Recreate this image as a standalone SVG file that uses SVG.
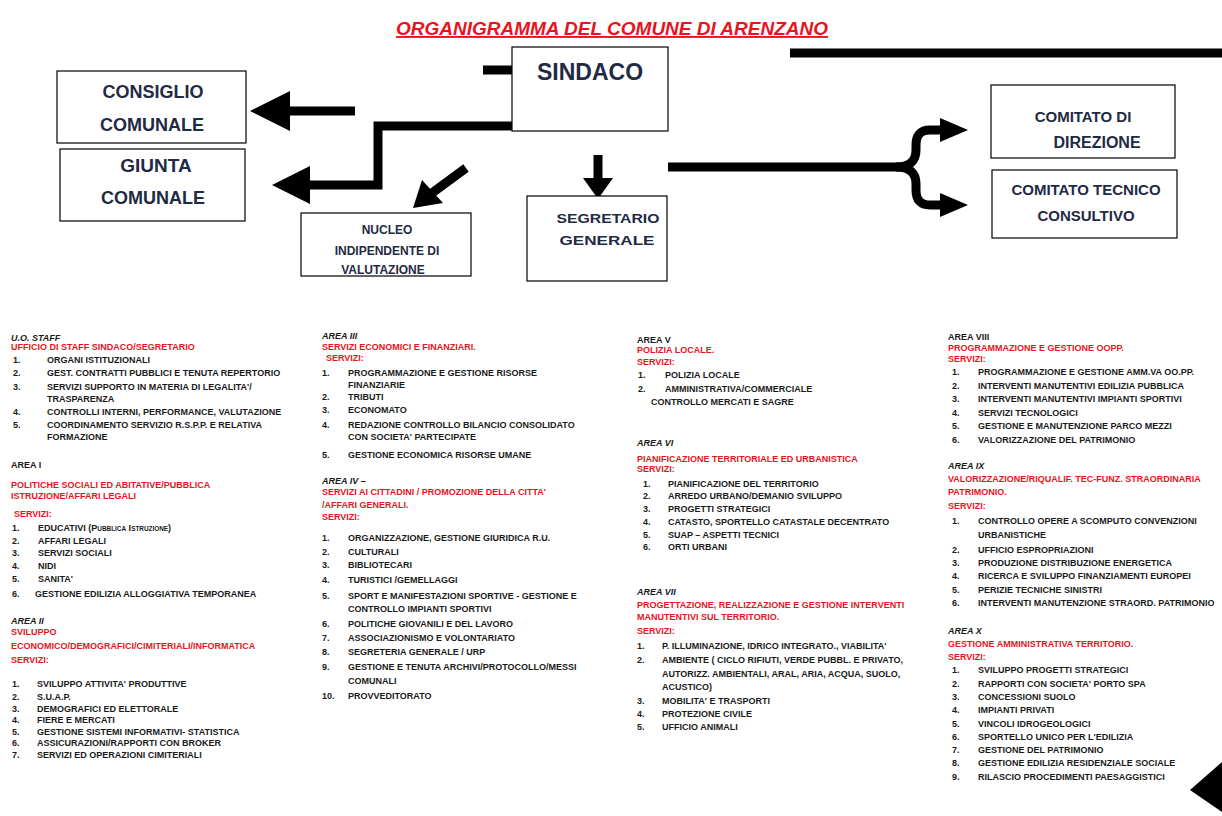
<svg xmlns="http://www.w3.org/2000/svg" width="1222" height="816" viewBox="0 0 1222 816" xml:space="preserve">
<style>
.b{fill:#fff;stroke:#000;stroke-width:1.2}
.h{font-family:"Liberation Sans",Arial,sans-serif;font-weight:bold;fill:#1f2a44;text-anchor:middle}
.t{font-family:"Liberation Sans",Arial,sans-serif;font-weight:bold;font-size:9px;fill:#1a1a1a}
.r{fill:#e8141b}
.i{font-style:italic}
.ln{stroke:#000;stroke-width:9;fill:none}
.ah{fill:#000}
</style>
<rect width="1222" height="816" fill="#fff"/>
<text x="612" y="35" text-anchor="middle" font-family="Liberation Sans,Arial,sans-serif" font-weight="bold" font-style="italic" font-size="19" fill="#e8141b" text-decoration="underline">ORGANIGRAMMA DEL COMUNE DI ARENZANO</text>
<g id="connectors">
<line class="ln" x1="790" y1="53" x2="1222" y2="53"/>
<line class="ln" x1="483" y1="70" x2="512" y2="70"/>
<line class="ln" x1="355" y1="111" x2="285" y2="111"/>
<polygon class="ah" points="250,111 290,91 290,131"/>
<polyline class="ln" points="512,126 378,126 378,185 305,185"/>
<polygon class="ah" points="272,185 310,166 310,204"/>
<line class="ln" x1="466" y1="168" x2="432" y2="193"/>
<polygon class="ah" points="413,208 422,180 443,203"/>
<line class="ln" x1="598" y1="155" x2="598" y2="180"/>
<polygon class="ah" points="583,178 613,178 598,199"/>
<line class="ln" x1="668" y1="167" x2="900" y2="167"/>
<path class="ln" d="M896,167 Q916,167 916,150 L916,145 Q916,130 930,130 L945,130 M896,167 Q916,167 916,184 L916,190 Q916,205 930,205 L945,205"/>
<polygon class="ah" points="968,130 940,118 940,142"/>
<polygon class="ah" points="968,205 940,193 940,217"/>
<polygon class="ah" points="1190,790 1222,762 1222,812"/>
</g>
<g id="sindaco"><rect class="b" x="512" y="47" width="156" height="84"/><text class="h" x="590" y="80" font-size="23">SINDACO</text></g>
<g id="consiglio"><rect class="b" x="57" y="71" width="189" height="72"/><text class="h" x="153" y="98" font-size="18">CONSIGLIO</text><text class="h" x="152" y="131" font-size="18">COMUNALE</text></g>
<g id="giunta"><rect class="b" x="60" y="149" width="185" height="72"/><text class="h" x="156" y="172" font-size="19">GIUNTA</text><text class="h" x="153" y="204" font-size="18">COMUNALE</text></g>
<g id="nucleo"><rect class="b" x="301" y="213" width="170" height="63"/><text class="h" x="387" y="234" font-size="12">NUCLEO</text><text class="h" x="387" y="255" font-size="12">INDIPENDENTE DI</text><text class="h" x="383" y="274" font-size="12">VALUTAZIONE</text></g>
<g id="segretario"><rect class="b" x="527" y="196" width="140" height="85"/><text class="h" x="608" y="223" font-size="13" textLength="103" lengthAdjust="spacingAndGlyphs">SEGRETARIO</text><text class="h" x="607" y="245" font-size="13" textLength="95" lengthAdjust="spacingAndGlyphs">GENERALE</text></g>
<g id="comitato-direzione"><rect class="b" x="991" y="85" width="184" height="73"/><text class="h" x="1083" y="122" font-size="15">COMITATO DI</text><text class="h" x="1097" y="148" font-size="16">DIREZIONE</text></g>
<g id="comitato-tecnico"><rect class="b" x="992" y="170" width="185" height="68"/><text class="h" x="1086" y="195" font-size="15">COMITATO TECNICO</text><text class="h" x="1086" y="221" font-size="15">CONSULTIVO</text></g>
<g id="col1">
<text class="t i" x="11" y="341">U.O. STAFF</text>
<text class="t r" x="11" y="350">UFFICIO DI STAFF SINDACO/SEGRETARIO</text>
<text class="t" x="13" y="363">1.</text><text class="t" x="47" y="363">ORGANI ISTITUZIONALI</text>
<text class="t" x="13" y="376">2.</text><text class="t" x="47" y="376">GEST. CONTRATTI PUBBLICI E TENUTA   REPERTORIO</text>
<text class="t" x="13" y="390">3.</text><text class="t" x="47" y="390">SERVIZI SUPPORTO IN MATERIA DI LEGALITA'/</text>
<text class="t" x="47" y="402">TRASPARENZA</text>
<text class="t" x="13" y="415">4.</text><text class="t" x="47" y="415">CONTROLLI INTERNI, PERFORMANCE, VALUTAZIONE</text>
<text class="t" x="13" y="428">5.</text><text class="t" x="47" y="428">COORDINAMENTO SERVIZIO R.S.P.P. E RELATIVA</text>
<text class="t" x="47" y="440">FORMAZIONE</text>
<text class="t" x="11" y="468">AREA I</text>
<text class="t r" x="11" y="488">POLITICHE SOCIALI ED ABITATIVE/PUBBLICA</text>
<text class="t r" x="11" y="499">ISTRUZIONE/AFFARI LEGALI</text>
<text class="t r" x="14" y="517">SERVIZI:</text>
<text class="t" x="12" y="531">1.</text><text class="t" x="38" y="531">EDUCATIVI (P<tspan font-size="6.4">UBBLICA</tspan> I<tspan font-size="6.4">STRUZIONE</tspan>)</text>
<text class="t" x="12" y="544">2.</text><text class="t" x="38" y="544">AFFARI LEGALI</text>
<text class="t" x="12" y="556">3.</text><text class="t" x="38" y="556">SERVIZI SOCIALI</text>
<text class="t" x="12" y="569">4.</text><text class="t" x="38" y="569">NIDI</text>
<text class="t" x="12" y="582">5.</text><text class="t" x="38" y="582">SANITA'</text>
<text class="t" x="12" y="597">6.</text><text class="t" x="35" y="597">GESTIONE EDILIZIA ALLOGGIATIVA TEMPORANEA</text>
<text class="t i" x="11" y="624">AREA II</text>
<text class="t r" x="11" y="635">SVILUPPO</text>
<text class="t r" x="11" y="649">ECONOMICO/DEMOGRAFICI/CIMITERIALI/INFORMATICA</text>
<text class="t r" x="11" y="663">SERVIZI:</text>
<text class="t" x="12" y="687">1.</text><text class="t" x="37" y="687">SVILUPPO ATTIVITA' PRODUTTIVE</text>
<text class="t" x="12" y="700">2.</text><text class="t" x="37" y="700">S.U.A.P.</text>
<text class="t" x="12" y="712">3.</text><text class="t" x="37" y="712">DEMOGRAFICI ED ELETTORALE</text>
<text class="t" x="12" y="723">4.</text><text class="t" x="37" y="723">FIERE E MERCATI</text>
<text class="t" x="12" y="735">5.</text><text class="t" x="37" y="735">GESTIONE SISTEMI INFORMATIVI- STATISTICA</text>
<text class="t" x="12" y="746">6.</text><text class="t" x="37" y="746">ASSICURAZIONI/RAPPORTI CON BROKER</text>
<text class="t" x="12" y="758">7.</text><text class="t" x="37" y="758">SERVIZI ED OPERAZIONI CIMITERIALI</text>
</g>
<g id="col2">
<text class="t i" x="322" y="339">AREA III</text>
<text class="t r" x="322" y="350">SERVIZI ECONOMICI E FINANZIARI.</text>
<text class="t r" x="326" y="361">SERVIZI:</text>
<text class="t" x="322" y="376">1.</text><text class="t" x="348" y="376">PROGRAMMAZIONE E GESTIONE RISORSE</text>
<text class="t" x="348" y="388">FINANZIARIE</text>
<text class="t" x="322" y="400">2.</text><text class="t" x="348" y="400">TRIBUTI</text>
<text class="t" x="322" y="413">3.</text><text class="t" x="348" y="413">ECONOMATO</text>
<text class="t" x="322" y="428">4.</text><text class="t" x="348" y="428">REDAZIONE CONTROLLO BILANCIO CONSOLIDATO</text>
<text class="t" x="348" y="440">CON SOCIETA' PARTECIPATE</text>
<text class="t" x="322" y="458">5.</text><text class="t" x="348" y="458">GESTIONE ECONOMICA RISORSE UMANE</text>
<text class="t i" x="322" y="484">AREA IV –</text>
<text class="t r" x="322" y="495">SERVIZI AI  CITTADINI /  PROMOZIONE DELLA CITTA'</text>
<text class="t r" x="322" y="508">/AFFARI GENERALI.</text>
<text class="t r" x="322" y="520">SERVIZI:</text>
<text class="t" x="322" y="541">1.</text><text class="t" x="348" y="541">ORGANIZZAZIONE,  GESTIONE GIURIDICA R.U.</text>
<text class="t" x="322" y="555">2.</text><text class="t" x="348" y="555">CULTURALI</text>
<text class="t" x="322" y="568">3.</text><text class="t" x="348" y="568">BIBLIOTECARI</text>
<text class="t" x="322" y="583">4.</text><text class="t" x="348" y="583">TURISTICI /GEMELLAGGI</text>
<text class="t" x="322" y="599">5.</text><text class="t" x="348" y="599">SPORT E MANIFESTAZIONI SPORTIVE - GESTIONE E</text>
<text class="t" x="348" y="612">CONTROLLO IMPIANTI SPORTIVI</text>
<text class="t" x="322" y="627">6.</text><text class="t" x="348" y="627">POLITICHE GIOVANILI  E  DEL LAVORO</text>
<text class="t" x="322" y="641">7.</text><text class="t" x="348" y="641">ASSOCIAZIONISMO E VOLONTARIATO</text>
<text class="t" x="322" y="655">8.</text><text class="t" x="348" y="655">SEGRETERIA GENERALE  / URP</text>
<text class="t" x="322" y="670">9.</text><text class="t" x="348" y="670">GESTIONE E TENUTA ARCHIVI/PROTOCOLLO/MESSI</text>
<text class="t" x="348" y="684">COMUNALI</text>
<text class="t" x="322" y="699">10.</text><text class="t" x="348" y="699">PROVVEDITORATO</text>
</g>
<g id="col3">
<text class="t" x="637" y="343">AREA V</text>
<text class="t r" x="637" y="353">POLIZIA LOCALE.</text>
<text class="t r" x="637" y="365">SERVIZI:</text>
<text class="t" x="638" y="378">1.</text><text class="t" x="665" y="378">POLIZIA LOCALE</text>
<text class="t" x="638" y="392">2.</text><text class="t" x="665" y="392">AMMINISTRATIVA/COMMERCIALE</text>
<text class="t" x="651" y="405">CONTROLLO MERCATI E SAGRE</text>
<text class="t i" x="637" y="446">AREA VI</text>
<text class="t r" x="637" y="462">PIANIFICAZIONE TERRITORIALE  ED  URBANISTICA</text>
<text class="t r" x="637" y="472">SERVIZI:</text>
<text class="t" x="643" y="487">1.</text><text class="t" x="668" y="487">PIANIFICAZIONE DEL TERRITORIO</text>
<text class="t" x="643" y="499">2.</text><text class="t" x="668" y="499">ARREDO URBANO/DEMANIO SVILUPPO</text>
<text class="t" x="643" y="512">3.</text><text class="t" x="668" y="512">PROGETTI STRATEGICI</text>
<text class="t" x="643" y="525">4.</text><text class="t" x="668" y="525">CATASTO, SPORTELLO CATASTALE DECENTRATO</text>
<text class="t" x="643" y="538">5.</text><text class="t" x="668" y="538">SUAP – ASPETTI TECNICI</text>
<text class="t" x="643" y="550">6.</text><text class="t" x="668" y="550">ORTI URBANI</text>
<text class="t i" x="637" y="595">AREA VII</text>
<text class="t r" x="637" y="608">PROGETTAZIONE, REALIZZAZIONE E GESTIONE INTERVENTI</text>
<text class="t r" x="637" y="620">MANUTENTIVI SUL TERRITORIO.</text>
<text class="t r" x="637" y="634">SERVIZI:</text>
<text class="t" x="637" y="649">1.</text><text class="t" x="662" y="649">P. ILLUMINAZIONE, IDRICO  INTEGRATO.,  VIABILITA'</text>
<text class="t" x="637" y="663">2.</text><text class="t" x="662" y="663">AMBIENTE ( CICLO RIFIUTI, VERDE PUBBL. E PRIVATO,</text>
<text class="t" x="662" y="677">AUTORIZZ. AMBIENTALI, ARAL, ARIA, ACQUA, SUOLO,</text>
<text class="t" x="662" y="690">ACUSTICO)</text>
<text class="t" x="637" y="704">3.</text><text class="t" x="662" y="704">MOBILITA' E TRASPORTI</text>
<text class="t" x="637" y="717">4.</text><text class="t" x="662" y="717">PROTEZIONE CIVILE</text>
<text class="t" x="637" y="730">5.</text><text class="t" x="662" y="730">UFFICIO ANIMALI</text>
</g>
<g id="col4">
<text class="t" x="948" y="340">AREA VIII</text>
<text class="t r" x="948" y="351">PROGRAMMAZIONE E GESTIONE OOPP.</text>
<text class="t r" x="948" y="362">SERVIZI:</text>
<text class="t" x="952" y="375">1.</text><text class="t" x="978" y="375">PROGRAMMAZIONE E GESTIONE AMM.VA OO.PP.</text>
<text class="t" x="952" y="389">2.</text><text class="t" x="978" y="389">INTERVENTI MANUTENTIVI EDILIZIA PUBBLICA</text>
<text class="t" x="952" y="402">3.</text><text class="t" x="978" y="402">INTERVENTI MANUTENTIVI IMPIANTI SPORTIVI</text>
<text class="t" x="952" y="416">4.</text><text class="t" x="978" y="416">SERVIZI TECNOLOGICI</text>
<text class="t" x="952" y="429">5.</text><text class="t" x="978" y="429">GESTIONE E MANUTENZIONE PARCO MEZZI</text>
<text class="t" x="952" y="443">6.</text><text class="t" x="978" y="443">VALORIZZAZIONE DEL PATRIMONIO</text>
<text class="t i" x="948" y="469">AREA IX</text>
<text class="t r" x="948" y="482">VALORIZZAZIONE/RIQUALIF. TEC-FUNZ. STRAORDINARIA</text>
<text class="t r" x="948" y="495">PATRIMONIO.</text>
<text class="t r" x="948" y="509">SERVIZI:</text>
<text class="t" x="952" y="524">1.</text><text class="t" x="978" y="524">CONTROLLO OPERE A SCOMPUTO CONVENZIONI</text>
<text class="t" x="978" y="538">URBANISTICHE</text>
<text class="t" x="952" y="553">2.</text><text class="t" x="978" y="553">UFFICIO ESPROPRIAZIONI</text>
<text class="t" x="952" y="566">3.</text><text class="t" x="978" y="566">PRODUZIONE DISTRIBUZIONE ENERGETICA</text>
<text class="t" x="952" y="579">4.</text><text class="t" x="978" y="579">RICERCA E SVILUPPO FINANZIAMENTI EUROPEI</text>
<text class="t" x="952" y="593">5.</text><text class="t" x="978" y="593">PERIZIE TECNICHE SINISTRI</text>
<text class="t" x="952" y="606">6.</text><text class="t" x="978" y="606">INTERVENTI MANUTENZIONE STRAORD. PATRIMONIO</text>
<text class="t i" x="948" y="634">AREA X</text>
<text class="t r" x="948" y="647">GESTIONE  AMMINISTRATIVA TERRITORIO.</text>
<text class="t r" x="948" y="660">SERVIZI:</text>
<text class="t" x="952" y="673">1.</text><text class="t" x="978" y="673">SVILUPPO PROGETTI STRATEGICI</text>
<text class="t" x="952" y="687">2.</text><text class="t" x="978" y="687">RAPPORTI CON SOCIETA' PORTO SPA</text>
<text class="t" x="952" y="700">3.</text><text class="t" x="978" y="700">CONCESSIONI SUOLO</text>
<text class="t" x="952" y="713">4.</text><text class="t" x="978" y="713">IMPIANTI PRIVATI</text>
<text class="t" x="952" y="727">5.</text><text class="t" x="978" y="727">VINCOLI  IDROGEOLOGICI</text>
<text class="t" x="952" y="740">6.</text><text class="t" x="978" y="740">SPORTELLO UNICO PER L'EDILIZIA</text>
<text class="t" x="952" y="753">7.</text><text class="t" x="978" y="753">GESTIONE  DEL PATRIMONIO</text>
<text class="t" x="952" y="766">8.</text><text class="t" x="978" y="766">GESTIONE EDILIZIA RESIDENZIALE SOCIALE</text>
<text class="t" x="952" y="780">9.</text><text class="t" x="978" y="780">RILASCIO PROCEDIMENTI PAESAGGISTICI</text>
</g>
</svg>
